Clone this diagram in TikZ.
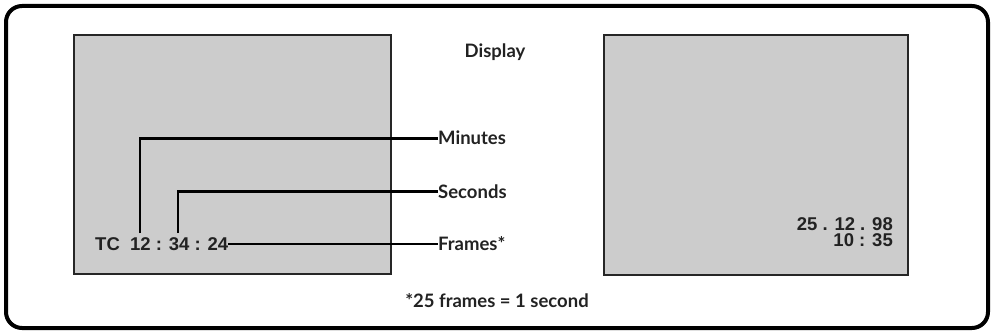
\documentclass[tikz,border=0pt]{standalone}
\usepackage{fontspec}
\setmainfont{Lato}
\newfontfamily\lcdfont{Liberation Sans}
\definecolor{scr}{HTML}{CCCCCC}
\definecolor{ink}{HTML}{222222}
\tikzset{
  screen/.style={draw=black!85, fill=scr, line width=1.3pt, inner sep=0pt},
  lbl/.style={font=\fontsize{18.5}{22}\selectfont\bfseries, text=ink, inner sep=0pt, anchor=base west},
  lcd/.style={font=\lcdfont\fontsize{18.5}{22}\selectfont\bfseries, text=ink, inner sep=0pt},
  lead/.style={line width=2.6pt, draw=black}
}
\begin{document}
\begin{tikzpicture}[x=1pt,y=-1pt]
\useasboundingbox (0,0) rectangle (994,334);
\node[draw=black, line width=4pt, rounded corners=16pt, minimum width=982pt, minimum height=322pt, inner sep=0pt] (frame) at (497,167) {};
\node[screen, minimum width=317pt, minimum height=239pt] (left) at (232.5,154.5) {};
\node[screen, minimum width=304pt, minimum height=240pt] (right) at (756,155) {};
\node[lbl, anchor=base] (disp) at (495,58) {Display};
\node[lcd, anchor=base west] (tc) at (95,251) {TC\ \ 12 : 34 : 24};
\node[lbl] (min) at (438,145) {Minutes};
\node[lbl] (sec) at (438,198) {Seconds};
\node[lbl] (frm) at (438,251) {Frames*};
\coordinate (m) at (140,233);
\coordinate (s) at (178,233);
\draw[lead] (m) |- (min.west);
\draw[lead] (s) |- (sec.west);
\draw[lead] (tc.east |- frm.west) -- (frm.west);
\node[lcd, anchor=base east] (date) at (893,230) {25 . 12 . 98};
\node[lcd, anchor=base east] (time) at (893,247) {10 : 35};
\node[lbl, anchor=base] (note) at (497,307) {*25 frames = 1 second};
\end{tikzpicture}
\end{document}
